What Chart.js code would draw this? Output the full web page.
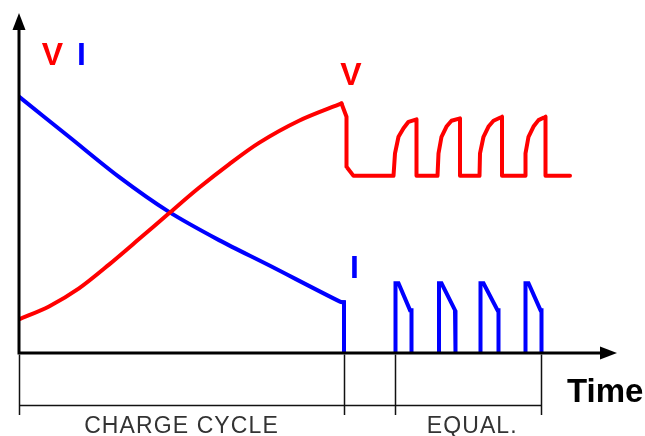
<!DOCTYPE html>
<html>
<head>
<meta charset="utf-8">
<script src="https://cdn.jsdelivr.net/npm/chart.js@4"></script>
<style>
  body { margin: 0; background: #fff; }
  canvas { display: block; }
</style>
</head>
<body>
<canvas id="chart" width="645" height="436"></canvas>
<script>
// time in arbitrary units, V and I in % of full scale
const vChargeT = [0, 6, 12, 18, 24, 30, 36, 42, 48, 56, 64.5];
const vChargeV = [9.9, 13.7, 19.0, 26.0, 33.5, 41.1, 48.6, 55.5, 61.8, 68.3, 73.4];

const vEqualT = [64.5, 65.5, 65.5, 66.9, 74.9,
                 75.2, 75.9, 76.9, 77.9, 79.5, 79.5, 83.7,
                 83.9, 84.5, 85.5, 86.5, 88.2, 88.2, 92.1,
                 92.2, 92.9, 93.9, 94.9, 96.6, 96.6, 101.2,
                 101.3, 101.9, 102.9, 103.9, 105.3, 105.3, 110.2];
const vEqualV = [73.4, 69.5, 54.8, 52.1, 52.1,
                 58.7, 63.6, 66.1, 68.0, 68.7, 52.1, 52.1,
                 58.7, 63.6, 66.6, 68.3, 69.0, 52.1, 52.1,
                 58.7, 63.6, 66.6, 68.3, 69.5, 52.1, 52.1,
                 58.7, 63.6, 66.6, 68.5, 69.5, 52.1, 52.1];

const iChargeT = [0, 10, 20, 30, 40, 50, 64.2, 65];
const iChargeA = [75.4, 63.6, 51.8, 41.5, 33.2, 25.8, 15.1, 14.9];

const iPulseT = [65, 65, null,
                 75.3, 75.3, 75.9, 78.2, 78.5, 78.5, null,
                 84.0, 84.0, 84.5, 87.2, 87.3, 87.3, null,
                 92.3, 92.3, 92.9, 95.7, 95.9, 95.9, null,
                 101.3, 101.3, 101.9, 104.3, 104.5, 104.5];
const iPulseA = [14.9, 0, null,
                 0, 20.5, 20.5, 12.6, 12.6, 0, null,
                 0, 20.5, 20.5, 12.6, 12.6, 0, null,
                 0, 20.5, 20.5, 12.6, 12.6, 0, null,
                 0, 20.5, 20.5, 12.6, 12.6, 0];

const phaseTicks = [0, 65, 75.3, 104.4];
const phaseLabels = ['CHARGE CYCLE', 'EQUAL.'];

const RED = '#ff0000';
const BLUE = '#0000ff';

const toPoints = (ts, vs) => ts.map((t, i) => t === null
  ? { x: ts[i - 1], y: null }
  : { x: t, y: vs[i] });

const decor = {
  id: 'decor',
  afterDatasetsDraw(chart) {
    const ctx = chart.ctx;
    const xs = chart.scales.x, ys = chart.scales.y;
    const ca = chart.chartArea;
    const x0 = xs.getPixelForValue(0);
    const yb = ys.getPixelForValue(0);
    ctx.save();

    // axes with arrow heads
    ctx.strokeStyle = '#000';
    ctx.fillStyle = '#000';
    ctx.lineWidth = 3;
    ctx.beginPath();
    ctx.moveTo(x0, yb + 1.5);
    ctx.lineTo(x0, ca.top + 14);
    ctx.moveTo(x0 - 1.5, yb);
    ctx.lineTo(ca.right - 16, yb);
    ctx.stroke();
    ctx.beginPath();
    ctx.moveTo(x0, ca.top);
    ctx.lineTo(x0 - 6.5, ca.top + 17);
    ctx.lineTo(x0 + 6.5, ca.top + 17);
    ctx.closePath();
    ctx.fill();
    ctx.beginPath();
    ctx.moveTo(ca.right - 2, yb);
    ctx.lineTo(ca.right - 19, yb - 6.5);
    ctx.lineTo(ca.right - 19, yb + 6.5);
    ctx.closePath();
    ctx.fill();

    // phase bracket
    const yLine = yb + 52.5;
    ctx.lineWidth = 1.5;
    ctx.strokeStyle = '#111';
    ctx.beginPath();
    ctx.moveTo(xs.getPixelForValue(phaseTicks[0]), yLine);
    ctx.lineTo(xs.getPixelForValue(phaseTicks[phaseTicks.length - 1]), yLine);
    phaseTicks.forEach(t => {
      const px = Math.round(xs.getPixelForValue(t)) + 0.5;
      ctx.moveTo(px, yb + 1.5);
      ctx.lineTo(px, yb + 62);
    });
    ctx.stroke();

    ctx.fillStyle = '#333';
    ctx.font = '23px "Liberation Sans", Arial, sans-serif';
    ctx.letterSpacing = '1.1px';
    ctx.textAlign = 'center';
    ctx.textBaseline = 'alphabetic';
    ctx.fillText(phaseLabels[0], xs.getPixelForValue((phaseTicks[0] + phaseTicks[1]) / 2), yb + 80);
    ctx.fillText(phaseLabels[1], xs.getPixelForValue((phaseTicks[2] + phaseTicks[3]) / 2) + 4, yb + 80);
    ctx.letterSpacing = '0px';

    // labels
    ctx.font = 'bold 33px "Liberation Sans", Arial, sans-serif';
    ctx.fillStyle = '#000';
    ctx.textAlign = 'left';
    ctx.fillText('Time', ca.right - 52, yb + 49);

    ctx.font = 'bold 32px "Liberation Sans", Arial, sans-serif';
    ctx.textAlign = 'center';
    ctx.fillStyle = RED;
    ctx.fillText('V', x0 + 33.5, 65);
    ctx.fillText('V', xs.getPixelForValue(66.4), 85);
    ctx.fillStyle = BLUE;
    ctx.fillText('I', x0 + 62.5, 65);
    ctx.fillText('I', xs.getPixelForValue(67.1), 278);
    ctx.restore();
  }
};

const lineStyle = {
  borderWidth: 4,
  pointRadius: 0,
  fill: false,
  spanGaps: false,
  borderJoinStyle: 'round'
};

new Chart(document.getElementById('chart'), {
  type: 'line',
  data: {
    datasets: [
      { ...lineStyle, data: toPoints(vChargeT, vChargeV), borderColor: RED, tension: 0.3, borderCapStyle: 'round' },
      { ...lineStyle, data: toPoints(vEqualT, vEqualV), borderColor: RED, tension: 0, borderCapStyle: 'round' },
      { ...lineStyle, data: toPoints(iChargeT, iChargeA), borderColor: BLUE, tension: 0.3, borderCapStyle: 'round' },
      { ...lineStyle, data: toPoints(iPulseT, iPulseA), borderColor: BLUE, tension: 0, borderJoinStyle: 'miter', borderCapStyle: 'square' }
    ]
  },
  options: {
    responsive: false,
    animation: false,
    devicePixelRatio: 1,
    layout: { padding: { left: 19, right: 26, top: 13, bottom: 83 } },
    scales: {
      x: { type: 'linear', min: 0, max: 120, display: false },
      y: { min: 0, max: 100, display: false }
    },
    plugins: {
      legend: { display: false },
      tooltip: { enabled: false }
    }
  },
  plugins: [decor]
});
</script>
</body>
</html>
